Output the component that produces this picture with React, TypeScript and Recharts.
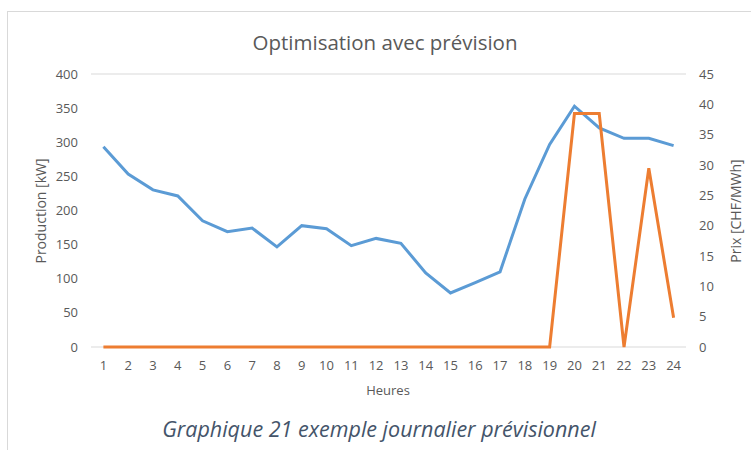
import { LineChart, Line, XAxis, YAxis, CartesianGrid } from "recharts";

const hours = ["1", "2", "3", "4", "5", "6", "7", "8", "9", "10", "11", "12", "13", "14", "15", "16", "17", "18", "19", "20", "21", "22", "23", "24"];
// prix prévu (CHF/MWh), axe de droite
const prix = [33.0, 28.5, 25.9, 24.9, 20.8, 19.0, 19.6, 16.5, 20.0, 19.5, 16.7, 17.9, 17.1, 12.2, 8.9, 10.6, 12.4, 24.4, 33.4, 39.7, 36.1, 34.4, 34.4, 33.2];
// production optimisée (kW), axe de gauche
const production = [0, 0, 0, 0, 0, 0, 0, 0, 0, 0, 0, 0, 0, 0, 0, 0, 0, 0, 0, 342, 342, 0, 262, 43];
const leftTicks = [0, 50, 100, 150, 200, 250, 300, 350, 400];
const rightTicks = [0, 5, 10, 15, 20, 25, 30, 35, 40, 45];

const FONT = "'Open Sans', sans-serif";
const GREY = "#595959";

const data = hours.map((h, i) => ({ heure: h, prix: prix[i], production: production[i] }));

export default function App() {
  return (
    <div style={{ position: "absolute", left: 0, top: 0, width: 751, height: 450, background: "#fff", fontFamily: FONT }}>
      <div style={{ position: "absolute", left: 7, top: 11, width: 744, height: 439, borderLeft: "1px solid #d9d9d9", borderTop: "1px solid #d9d9d9" }} />
      <div style={{ position: "absolute", left: 385, top: 42, transform: "translate(-50%, -50%)", whiteSpace: "nowrap", fontSize: 20.5, color: GREY }}>
        Optimisation avec prévision
      </div>
      <LineChart
        width={751}
        height={450}
        data={data}
        margin={{ top: 74, right: 0, left: 0, bottom: 73 }}
        style={{ position: "absolute", left: 0, top: 0 }}
      >
        <CartesianGrid vertical={false} stroke="#d9d9d9" strokeWidth={1.2} />
        <XAxis
          dataKey="heure"
          height={30}
          padding={{ left: 12.4, right: 12.4 }}
          axisLine={false}
          tickLine={false}
          tickMargin={8}
          interval={0}
          tick={{ fill: GREY, fontSize: 13, fontFamily: FONT }}
        />
        <YAxis
          yAxisId="left"
          width={91}
          domain={[0, 400]}
          ticks={leftTicks}
          axisLine={false}
          tickLine={false}
          tickMargin={7}
          tick={{ fill: GREY, fontSize: 13, fontFamily: FONT }}
        />
        <YAxis
          yAxisId="right"
          orientation="right"
          width={65}
          domain={[0, 45]}
          ticks={rightTicks}
          axisLine={false}
          tickLine={false}
          tickMargin={7}
          tick={{ fill: GREY, fontSize: 13, fontFamily: FONT, textAnchor: "start" }}
        />
        <Line
          yAxisId="right"
          dataKey="prix"
          stroke="#5b9bd5"
          strokeWidth={3}
          dot={false}
          isAnimationActive={false}
        />
        <Line
          yAxisId="left"
          dataKey="production"
          stroke="#ed7d31"
          strokeWidth={3}
          dot={false}
          isAnimationActive={false}
        />
      </LineChart>
      <div style={{ position: "absolute", left: 40, top: 211, transform: "translate(-50%, -50%) rotate(-90deg)", whiteSpace: "nowrap", fontSize: 14, color: GREY }}>
        Production [kW]
      </div>
      <div style={{ position: "absolute", left: 735, top: 211, transform: "translate(-50%, -50%) rotate(-90deg)", whiteSpace: "nowrap", fontSize: 14, color: GREY }}>
        Prix [CHF/MWh]
      </div>
      <div style={{ position: "absolute", left: 388, top: 390, transform: "translate(-50%, -50%)", whiteSpace: "nowrap", fontSize: 13, color: GREY }}>
        Heures
      </div>
      <div style={{ position: "absolute", left: 379, top: 428, transform: "translate(-50%, -50%)", whiteSpace: "nowrap", fontSize: 21.5, fontStyle: "italic", color: "#44546a" }}>
        Graphique 21 exemple journalier prévisionnel
      </div>
    </div>
  );
}
